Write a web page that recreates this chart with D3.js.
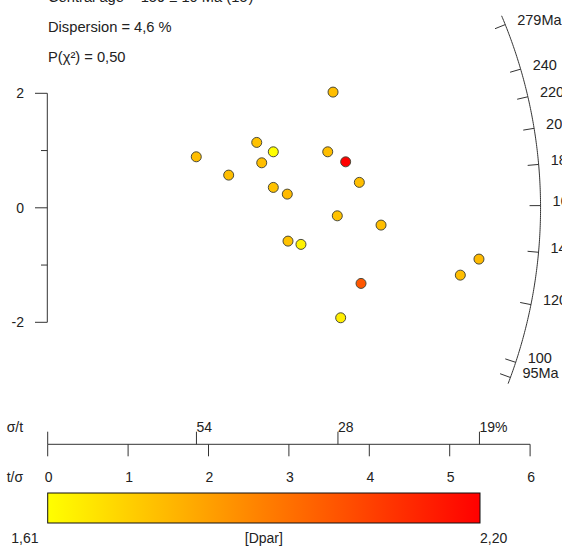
<!DOCTYPE html>
<html>
<head>
<meta charset="utf-8">
<script src="https://cdn.jsdelivr.net/npm/d3@7"></script>
<style>
  html, body { margin: 0; padding: 0; background: #fff; }
  svg { display: block; font-family: "Liberation Sans", Arial, sans-serif; }
</style>
</head>
<body>
<svg id="chart" width="562" height="547"></svg>
<script>
// ---- data ----
const tOverSigma = [1.848, 2.251, 2.600, 2.806, 2.662, 2.806, 2.980, 3.549, 3.483, 3.706,
                    3.876, 3.602, 4.146, 2.989, 3.150, 5.364, 5.132, 3.897, 3.644];
const zScore     = [0.891, 0.571, 1.142, 0.978, 0.786, 0.356, 0.239, 2.021, 0.978, 0.803,
                    0.444, -0.140, -0.302, -0.582, -0.639, -0.896, -1.176, -1.321, -1.921];
const dpar       = [1.76, 1.76, 1.75, 1.61, 1.76, 1.75, 1.77, 1.76, 1.76, 2.20,
                    1.76, 1.75, 1.76, 1.75, 1.64, 1.77, 1.76, 2.00, 1.65];
const centralAge = 159;
const arcTicks   = [279, 240, 220, 200, 180, 160, 140, 120, 100, 95];
const arcTickLabels = ["279Ma", "240", "220", "200", "180", "160", "140", "120", "100", "95Ma"];
const arcRange   = [93, 288];
const arcRadius  = 6.13;                  // in t/σ units
const xTicks     = [0, 1, 2, 3, 4, 5, 6];
const sigmaTicks = [0, 1.85, 3.61, 5.37];
const sigmaTickLabels = ["", "54", "28", "19%"];
const yTicks     = [-2, -1, 0, 1, 2];
const yTickLabels = ["-2", "", "0", "", "2"];
const headerLines = ["Central age = 159 ± 10 Ma (1σ)", "Dispersion = 4,6 %", "P(χ²) = 0,50"];
const colorbarTitle = "[Dpar]";

// ---- setup ----
const svg = d3.select("#chart");
const ink = "#222";
const axisCol = "#333";
const fs = 14;
const loc = d3.formatLocale({decimal: ",", thousands: ".", grouping: [3], currency: ["", ""]});
const fmt2 = loc.format(".2f");

const xS = d3.scaleLinear().domain([0, 6]).range([47.7, 530.1]);
const yS = d3.scaleLinear().domain([-2, 2]).range([322.3, 93.3]);
const dExt = d3.extent(dpar);
const col = d3.scaleLinear().domain(dExt).range(["#ffff00", "#ff0000"]).interpolate(d3.interpolateRgb);

// header text
svg.selectAll("text.hdr").data(headerLines).join("text")
  .attr("class", "hdr")
  .attr("x", 48).attr("y", (d, i) => -3.5 + i * 30.3)
  .attr("dominant-baseline", "central")
  .attr("font-size", 14.7).attr("fill", ink)
  .text(d => d);

// left axis
svg.append("line").attr("x1", xS(0) - 0.4).attr("x2", xS(0) - 0.4)
  .attr("y1", yS(2)).attr("y2", yS(-2)).attr("stroke", axisCol);
yTicks.forEach((t, i) => {
  const len = yTickLabels[i] ? 12.3 : 6.3;
  svg.append("line").attr("x1", xS(0) - 0.4 - len).attr("x2", xS(0) - 0.4)
    .attr("y1", yS(t)).attr("y2", yS(t)).attr("stroke", axisCol);
  if (yTickLabels[i]) svg.append("text").attr("x", 24).attr("y", yS(t))
    .attr("text-anchor", "end").attr("dominant-baseline", "central")
    .attr("font-size", fs).attr("fill", ink).text(yTickLabels[i]);
});

// radial arc
const O = [xS(0), yS(0)];
const Rpx = xS(arcRadius) - xS(0);
function arcPoint(age, r) {
  const s = Math.log(age / centralAge);
  const dx = xS(1) - xS(0), dy = yS(s) - yS(0);
  const n = Math.hypot(dx, dy);
  return [O[0] + r * dx / n, O[1] + r * dy / n];
}
const arcAges = d3.range(0, 201).map(i => arcRange[0] * Math.pow(arcRange[1] / arcRange[0], i / 200));
svg.append("path")
  .attr("d", d3.line()(arcAges.map(a => arcPoint(a, Rpx))))
  .attr("fill", "none").attr("stroke", axisCol);
arcTicks.forEach((a, i) => {
  const p1 = arcPoint(a, Rpx), p0 = arcPoint(a, Rpx - 11);
  svg.append("line").attr("x1", p0[0]).attr("y1", p0[1]).attr("x2", p1[0]).attr("y2", p1[1])
    .attr("stroke", axisCol);
  svg.append("text").attr("x", p1[0] + 12).attr("y", p1[1] - 4.5)
    .attr("dominant-baseline", "central").attr("font-size", 14.5).attr("fill", ink)
    .text(arcTickLabels[i]);
});

// points
svg.append("g").selectAll("circle").data(tOverSigma.map((x, i) => ({x, y: zScore[i], d: dpar[i]})))
  .join("circle")
  .attr("cx", d => xS(d.x)).attr("cy", d => yS(d.y)).attr("r", 5)
  .attr("fill", d => col(d.d)).attr("stroke", "#4a4a3a").attr("stroke-width", 1);

// bottom axes
const yAx = 444.3;
svg.append("line").attr("x1", xS(0)).attr("x2", xS(6)).attr("y1", yAx).attr("y2", yAx).attr("stroke", axisCol);
xTicks.forEach(t => {
  svg.append("line").attr("x1", xS(t)).attr("x2", xS(t)).attr("y1", yAx).attr("y2", yAx + 12)
    .attr("stroke", axisCol);
  svg.append("text").attr("x", xS(t) + 1).attr("y", 477).attr("text-anchor", "middle")
    .attr("dominant-baseline", "central").attr("font-size", fs).attr("fill", ink).text(t);
});
sigmaTicks.forEach((t, i) => {
  svg.append("line").attr("x1", xS(t)).attr("x2", xS(t)).attr("y1", yAx - 12.6).attr("y2", yAx)
    .attr("stroke", axisCol);
  svg.append("text").attr("x", xS(t)).attr("y", 426.5)
    .attr("dominant-baseline", "central").attr("font-size", fs).attr("fill", ink).text(sigmaTickLabels[i]);
});
svg.append("text").attr("x", 6.7).attr("y", 426.7).attr("dominant-baseline", "central")
  .attr("font-size", fs).attr("fill", ink).text("σ/t");
svg.append("text").attr("x", 6.7).attr("y", 476.7).attr("dominant-baseline", "central")
  .attr("font-size", fs).attr("fill", ink).text("t/σ");

// colour bar
const cb = {x0: xS(0), x1: 480, y0: 493, y1: 523};
const grad = svg.append("defs").append("linearGradient").attr("id", "cbg")
  .attr("x1", "0%").attr("x2", "100%").attr("y1", "0%").attr("y2", "0%");
d3.range(0, 11).forEach(i => {
  const v = dExt[0] + (dExt[1] - dExt[0]) * i / 10;
  grad.append("stop").attr("offset", (i * 10) + "%").attr("stop-color", col(v));
});
svg.append("rect").attr("x", cb.x0).attr("y", cb.y0).attr("width", cb.x1 - cb.x0).attr("height", cb.y1 - cb.y0)
  .attr("fill", "url(#cbg)").attr("stroke", "#111").attr("stroke-width", 1);
svg.append("text").attr("x", 38.5).attr("y", 538).attr("text-anchor", "end")
  .attr("dominant-baseline", "central").attr("font-size", fs).attr("fill", ink).text(fmt2(dExt[0]));
svg.append("text").attr("x", cb.x1).attr("y", 538)
  .attr("dominant-baseline", "central").attr("font-size", fs).attr("fill", ink).text(fmt2(dExt[1]));
svg.append("text").attr("x", (cb.x0 + cb.x1) / 2).attr("y", 538).attr("text-anchor", "middle")
  .attr("dominant-baseline", "central").attr("font-size", fs).attr("fill", ink).text(colorbarTitle);
</script>
</body>
</html>
